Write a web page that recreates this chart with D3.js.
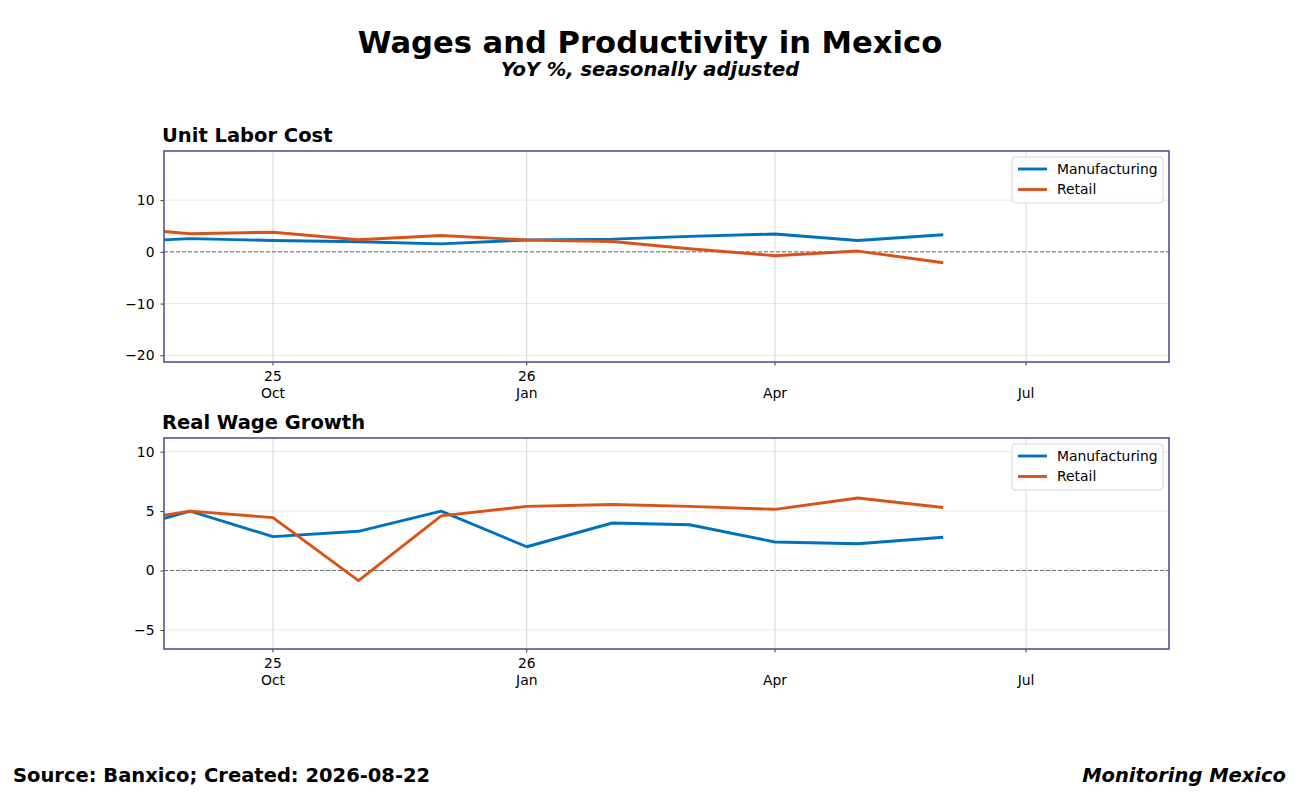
<!DOCTYPE html>
<html>
<head>
<meta charset="utf-8">
<script src="https://cdn.jsdelivr.net/npm/d3@7"></script>
<style>
  body { margin: 0; background: #fff; }
  svg { font-family: "DejaVu Sans", sans-serif; }
</style>
</head>
<body>
<svg id="chart" width="1300" height="810"></svg>
<script>
// monthly observations, first of month (UTC)
var months = ["2025-08", "2025-09", "2025-10", "2025-11", "2025-12", "2026-01",
              "2026-02", "2026-03", "2026-04", "2026-05", "2026-06"];

var ulcManufacturing = [1.8, 2.55, 2.2, 1.95, 1.55, 2.3, 2.45, 3.0, 3.45, 2.2, 3.3];
var ulcRetail        = [4.9, 3.5, 3.8, 2.35, 3.15, 2.3, 2.0, 0.6, -0.75, 0.15, -2.1];

var wageManufacturing = [3.0, 5.0, 2.85, 3.3, 5.0, 2.0, 4.0, 3.85, 2.4, 2.25, 2.8];
var wageRetail        = [3.85, 5.0, 4.45, -0.85, 4.6, 5.4, 5.55, 5.4, 5.15, 6.1, 5.3];

var seriesNames = ["Manufacturing", "Retail"];
var seriesColors = ["#0072BD", "#D95319"];

var xTickDates = ["2025-10-01", "2026-01-01", "2026-04-01", "2026-07-01"];
var xTickYear  = ["25", "26", "", ""];
var xTickMonth = ["Oct", "Jan", "Apr", "Jul"];

var ulcTicks = [-20, -10, 0, 10];
var wageTicks = [-5, 0, 5, 10];

var PANEL_LEFT = 164, PANEL_RIGHT = 1169, PANEL_HEIGHT = 211;
var SPINE_COLOR = "#5a4f93";

var parseMonth = d3.utcParse("%Y-%m");
var parseDay = d3.utcParse("%Y-%m-%d");

var svg = d3.select("#chart");

var x = d3.scaleUtc()
    .domain([new Date(Date.UTC(2025, 7, 22, 12)), new Date(Date.UTC(2026, 7, 21, 20))])
    .range([PANEL_LEFT, PANEL_RIGHT]);

/* Headline */
svg.append("text")
    .attr("x", 650).attr("y", 53)
    .attr("text-anchor", "middle")
    .style("font-size", "30.6px").style("font-weight", "bold")
    .text("Wages and Productivity in Mexico");
svg.append("text")
    .attr("x", 650).attr("y", 76)
    .attr("text-anchor", "middle")
    .style("font-size", "19.5px").style("font-weight", "bold").style("font-style", "italic")
    .text("YoY %, seasonally adjusted");

function drawPanel(id, top, title, yDomain, yTicks, valuesList) {
    var g = svg.append("g").attr("class", "panel");
    var bottom = top + PANEL_HEIGHT;

    var y = d3.scaleLinear().domain(yDomain).range([bottom, top]);

    g.append("clipPath").attr("id", "clip-" + id)
        .append("rect")
        .attr("x", PANEL_LEFT).attr("y", top)
        .attr("width", PANEL_RIGHT - PANEL_LEFT).attr("height", PANEL_HEIGHT);

    // horizontal grid
    g.append("g").selectAll("line").data(yTicks).enter().append("line")
        .attr("x1", PANEL_LEFT).attr("x2", PANEL_RIGHT)
        .attr("y1", function(d) { return y(d); })
        .attr("y2", function(d) { return y(d); })
        .attr("stroke", "#e3e3e3").attr("stroke-width", 0.8);

    // vertical grid
    g.append("g").selectAll("line").data(xTickDates).enter().append("line")
        .attr("x1", function(d) { return x(parseDay(d)); })
        .attr("x2", function(d) { return x(parseDay(d)); })
        .attr("y1", top).attr("y2", bottom)
        .attr("stroke", "#cfcfcf").attr("stroke-width", 0.8);

    // zero line
    g.append("line")
        .attr("x1", PANEL_LEFT).attr("x2", PANEL_RIGHT)
        .attr("y1", y(0)).attr("y2", y(0))
        .attr("stroke", "#6b6b6b").attr("stroke-width", 1)
        .attr("stroke-dasharray", "4,2");

    // series
    var line = d3.line()
        .x(function(d, i) { return x(parseMonth(months[i])); })
        .y(function(d) { return y(d); });
    g.append("g").attr("clip-path", "url(#clip-" + id + ")")
        .selectAll("path").data(valuesList).enter().append("path")
        .attr("d", line)
        .attr("fill", "none")
        .attr("stroke", function(d, i) { return seriesColors[i]; })
        .attr("stroke-width", 2.9)
        .attr("stroke-linejoin", "round");

    // y axis
    var yAxis = d3.axisLeft(y).tickValues(yTicks).tickSize(3.5).tickPadding(6)
        .tickFormat(function(d) { return d < 0 ? "\u2212" + Math.abs(d) : d; });
    var ya = g.append("g").attr("transform", "translate(" + PANEL_LEFT + ",0)").call(yAxis);
    ya.select(".domain").remove();
    ya.selectAll("line").attr("stroke", "#000").attr("stroke-width", 0.8);
    ya.selectAll("text").style("font-family", "DejaVu Sans").style("font-size", "13.9px").attr("fill", "#000");

    // x axis
    var xa = g.append("g").attr("transform", "translate(0," + bottom + ")");
    var xt = xa.selectAll("g").data(xTickDates).enter().append("g")
        .attr("transform", function(d) { return "translate(" + x(parseDay(d)) + ",0)"; });
    xt.append("line").attr("y1", 0).attr("y2", 3.5).attr("stroke", "#000").attr("stroke-width", 0.8);
    xt.append("text").attr("y", 19).attr("text-anchor", "middle")
        .style("font-size", "13.9px")
        .text(function(d, i) { return xTickYear[i]; });
    xt.append("text").attr("y", 35.5).attr("text-anchor", "middle")
        .style("font-size", "13.9px")
        .text(function(d, i) { return xTickMonth[i]; });

    // frame
    g.append("rect")
        .attr("x", PANEL_LEFT).attr("y", top)
        .attr("width", PANEL_RIGHT - PANEL_LEFT).attr("height", PANEL_HEIGHT)
        .attr("fill", "none").attr("stroke", SPINE_COLOR).attr("stroke-width", 1.6);

    // title
    g.append("text")
        .attr("x", 162).attr("y", top - 8.7)
        .style("font-size", "19.5px").style("font-weight", "bold")
        .text(title);

    // legend
    var lg = g.append("g").attr("transform", "translate(1012," + (top + 6) + ")");
    lg.append("rect")
        .attr("width", 151).attr("height", 46).attr("rx", 3)
        .attr("fill", "#fff").attr("fill-opacity", 0.8)
        .attr("stroke", "#d6d6d6").attr("stroke-width", 1);
    var item = lg.selectAll("g.item").data(seriesNames).enter().append("g")
        .attr("class", "item")
        .attr("transform", function(d, i) { return "translate(0," + (12 + i * 20.5) + ")"; });
    item.append("line").attr("x1", 6).attr("x2", 35)
        .attr("stroke", function(d, i) { return seriesColors[i]; })
        .attr("stroke-width", 2.9);
    item.append("text").attr("x", 45).attr("y", 4.8)
        .style("font-size", "13.9px")
        .text(function(d) { return d; });
}

drawPanel("ulc", 151, "Unit Labor Cost", [-21.3, 19.5], ulcTicks, [ulcManufacturing, ulcRetail]);
drawPanel("wage", 438, "Real Wage Growth", [-6.6, 11.15], wageTicks, [wageManufacturing, wageRetail]);

/* Footer */
svg.append("text")
    .attr("x", 13).attr("y", 781.5)
    .style("font-size", "19.5px").style("font-weight", "bold")
    .text("Source: Banxico; Created: 2026-08-22");
svg.append("text")
    .attr("x", 1286).attr("y", 781.5)
    .attr("text-anchor", "end")
    .style("font-size", "19.5px").style("font-weight", "bold").style("font-style", "italic")
    .text("Monitoring Mexico");
</script>
</body>
</html>
